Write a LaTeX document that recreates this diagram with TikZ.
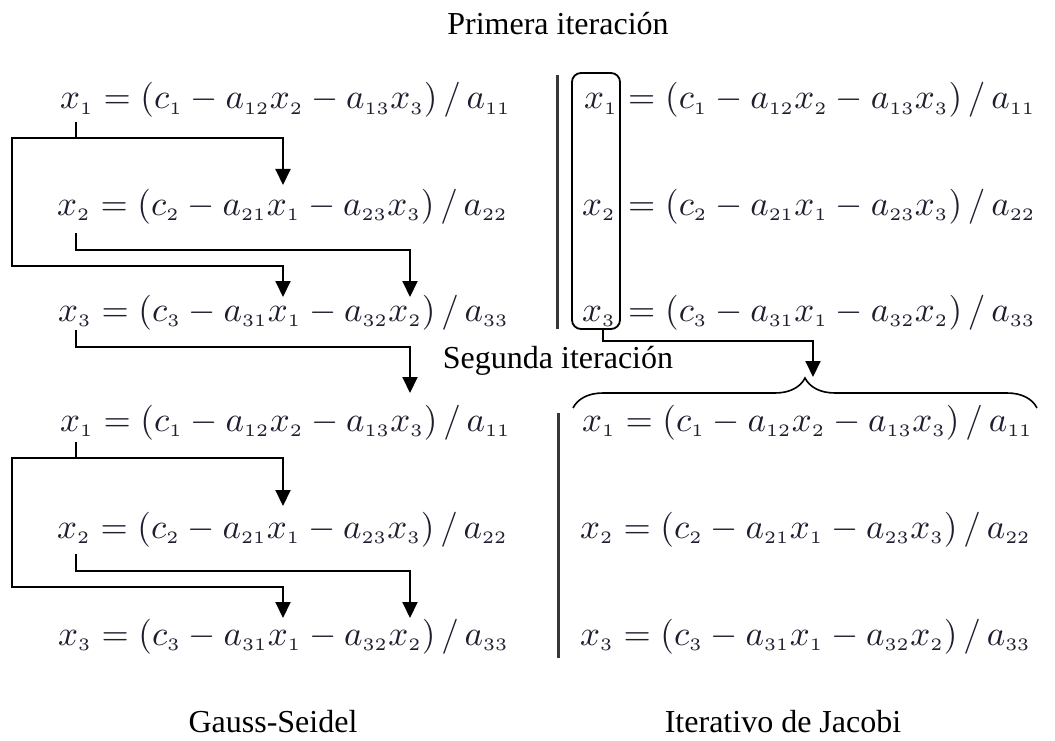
\documentclass[tikz,border=0pt]{standalone}
\usepackage{fontspec}
\setmainfont{Liberation Serif}
\usepackage{graphicx}
\usetikzlibrary{arrows.meta,decorations.pathreplacing}
\definecolor{eqcol}{RGB}{30,30,48}
\definecolor{barcol}{RGB}{55,55,55}
\newcommand{\eqsc}{3.5}
\newcommand{\ssub}[1]{_{\scriptscriptstyle #1}}
\newcommand{\myeq}[1]{\scalebox{\eqsc}{$#1$}}
\begin{document}
\begin{tikzpicture}[x=1pt,y=-1pt,
  eq/.style={inner sep=0pt, anchor=base west, text=eqcol},
  lbl/.style={inner sep=0pt, anchor=base, font=\fontsize{32}{38}\selectfont},
  conn/.style={line width=2pt, line join=miter},
  arr/.style={conn, -{Triangle[length=16pt,width=15pt]}},
  darr/.style={conn, {Triangle[length=16pt,width=15pt]}-{Triangle[length=16pt,width=15pt]}},
  vbar/.style={line width=3pt, barcol}]
\useasboundingbox (0,0) rectangle (1055,741);

% titles
\node[lbl] (prim) at (558,35) {Primera iteración};
\node[lbl] (seg) at (558,368) {Segunda iteración};
\node[lbl] (gs) at (273,732) {Gauss-Seidel};
\node[lbl] (jac) at (783,732) {Iterativo de Jacobi};

% Gauss-Seidel, first iteration
\node[eq] (g11) at (60,109) {\myeq{x\ssub1 = (c\ssub1 - a\ssub{12}x\ssub2 - a\ssub{13}x\ssub3)\,/\,a\ssub{11}}};
\node[eq] (g12) at (57,215) {\myeq{x\ssub2 = (c\ssub2 - a\ssub{21}x\ssub1 - a\ssub{23}x\ssub3)\,/\,a\ssub{22}}};
\node[eq] (g13) at (58,321) {\myeq{x\ssub3 = (c\ssub3 - a\ssub{31}x\ssub1 - a\ssub{32}x\ssub2)\,/\,a\ssub{33}}};
% Gauss-Seidel, second iteration
\node[eq] (g21) at (60,431) {\myeq{x\ssub1 = (c\ssub1 - a\ssub{12}x\ssub2 - a\ssub{13}x\ssub3)\,/\,a\ssub{11}}};
\node[eq] (g22) at (57,538) {\myeq{x\ssub2 = (c\ssub2 - a\ssub{21}x\ssub1 - a\ssub{23}x\ssub3)\,/\,a\ssub{22}}};
\node[eq] (g23) at (58,645) {\myeq{x\ssub3 = (c\ssub3 - a\ssub{31}x\ssub1 - a\ssub{32}x\ssub2)\,/\,a\ssub{33}}};

% Jacobi, first iteration
\node[eq] (jx1) at (584,109) {\myeq{x\ssub1}};
\node[eq] (jx2) at (582,215) {\myeq{x\ssub2}};
\node[eq] (jx3) at (582,321) {\myeq{x\ssub3}};
\node[eq] (j11) at (628,109) {\myeq{= (c\ssub1 - a\ssub{12}x\ssub2 - a\ssub{13}x\ssub3)\,/\,a\ssub{11}}};
\node[eq] (j12) at (628,215) {\myeq{= (c\ssub2 - a\ssub{21}x\ssub1 - a\ssub{23}x\ssub3)\,/\,a\ssub{22}}};
\node[eq] (j13) at (628,321) {\myeq{= (c\ssub3 - a\ssub{31}x\ssub1 - a\ssub{32}x\ssub2)\,/\,a\ssub{33}}};
\node[draw, line width=1.8pt, rounded corners=9pt, minimum width=48pt,
      minimum height=256pt, inner sep=0pt] (jbox) at (596,201) {};
% Jacobi, second iteration
\node[eq] (j21) at (582,431) {\myeq{x\ssub1 = (c\ssub1 - a\ssub{12}x\ssub2 - a\ssub{13}x\ssub3)\,/\,a\ssub{11}}};
\node[eq] (j22) at (580,538) {\myeq{x\ssub2 = (c\ssub2 - a\ssub{21}x\ssub1 - a\ssub{23}x\ssub3)\,/\,a\ssub{22}}};
\node[eq] (j23) at (580,645) {\myeq{x\ssub3 = (c\ssub3 - a\ssub{31}x\ssub1 - a\ssub{32}x\ssub2)\,/\,a\ssub{33}}};

% separator bars
\coordinate (bar1t) at (557,75);  \coordinate (bar1b) at (557,329);
\coordinate (bar2t) at (558,413); \coordinate (bar2b) at (558,658);
\draw[vbar] (bar1t) -- (bar1b);
\draw[vbar] (bar2t) -- (bar2b);

% connectors, first iteration
\coordinate (t1s) at (76,122); \coordinate (t1j) at (76,138);
\coordinate (tA1) at (283,185); \coordinate (tR1) at (283,138);
\coordinate (tL1) at (12,138);  \coordinate (tL2) at (12,266);
\coordinate (tR2) at (283,266); \coordinate (tA2) at (283,297);
\draw[conn] (t1s) -- (t1j);
\draw[darr] (tA1) -- (tR1) -- (tL1) -- (tL2) -- (tR2) -- (tA2);
\coordinate (t2s) at (76,233); \coordinate (t2j) at (76,250);
\coordinate (t2r) at (410,250); \coordinate (t2a) at (410,297);
\draw[arr] (t2s) -- (t2j) -- (t2r) -- (t2a);
\coordinate (t3s) at (76,330); \coordinate (t3j) at (76,347);
\coordinate (t3r) at (410,347); \coordinate (t3a) at (410,393);
\draw[arr] (t3s) -- (t3j) -- (t3r) -- (t3a);

% connectors, second iteration
\coordinate (b1s) at (76,442); \coordinate (b1j) at (76,458);
\coordinate (bA1) at (283,506); \coordinate (bR1) at (283,458);
\coordinate (bL1) at (12,458);  \coordinate (bL2) at (12,587);
\coordinate (bR2) at (283,587); \coordinate (bA2) at (283,618);
\draw[conn] (b1s) -- (b1j);
\draw[darr] (bA1) -- (bR1) -- (bL1) -- (bL2) -- (bR2) -- (bA2);
\coordinate (b2s) at (76,554); \coordinate (b2j) at (76,571);
\coordinate (b2r) at (410,571); \coordinate (b2a) at (410,618);
\draw[arr] (b2s) -- (b2j) -- (b2r) -- (b2a);

% Jacobi connector and brace
\coordinate (jj) at (603,341); \coordinate (jr) at (813,341);
\coordinate (btip) at (813,377);
\draw[arr] ([xshift=7pt]jbox.south) -- (jj) -- (jr) -- (btip);
\coordinate (brl) at (573,408); \coordinate (brr) at (1037,408);
\draw[line width=1.6pt, decorate, decoration={brace, amplitude=30pt}] (brl) -- (brr);
\end{tikzpicture}
\end{document}
